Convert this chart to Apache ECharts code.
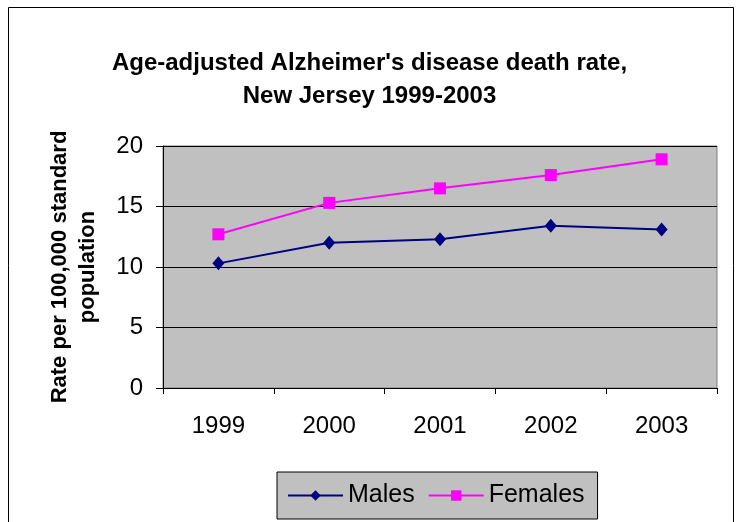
<!DOCTYPE html>
<html><head><meta charset="utf-8">
<script src="https://cdn.jsdelivr.net/npm/echarts@6/dist/echarts.min.js"></script>
<style>html,body{margin:0;padding:0;background:#fff}#c{width:739px;height:522px}</style>
</head><body><div id="c"></div>
<script>
const categories = ['1999','2000','2001','2002','2003'];
const males = [10.3, 12.0, 12.3, 13.4, 13.1];
const females = [12.7, 15.3, 16.5, 17.6, 18.9];
const yTicks = [0, 5, 10, 15, 20];

const chart = echarts.init(document.getElementById('c'));
const font = 'Liberation Sans, Arial, sans-serif';
chart.setOption({
  animation: false,
  backgroundColor: '#fff',
  title: {
    text: "Age-adjusted Alzheimer's disease death rate,\nNew Jersey 1999-2003",
    left: 'center', top: 42,
    textStyle: {fontFamily: font, fontWeight: 'bold', fontSize: 24, lineHeight: 33, color: '#000'}
  },
  graphic: [{type: 'rect', shape: {x: 8.5, y: 7.5, width: 725, height: 525}, style: {fill: 'none', stroke: '#000', lineWidth: 1}, z: -1}],
  grid: {left: 163, right: 22, top: 146, bottom: 134, show: true, backgroundColor: '#C0C0C0', borderColor: '#808080', borderWidth: 1},
  legend: {
    bottom: 3, left: 277,
    data: ['Males', 'Females'],
    backgroundColor: '#C0C0C0', borderColor: '#000', borderWidth: 1,
    padding: [11, 13, 11, 10], itemGap: 13, itemWidth: 55, itemHeight: 13,
    textStyle: {fontFamily: font, fontSize: 25, color: '#000', padding: [0, 0, 0, 0]}
  },
  xAxis: {
    type: 'category', data: categories, boundaryGap: true,
    axisLine: {lineStyle: {color: '#000', width: 1}},
    axisTick: {show: true, length: 6, lineStyle: {color: '#000'}},
    axisLabel: {fontFamily: font, fontSize: 24, color: '#000', margin: 26}
  },
  yAxis: {
    type: 'value', min: yTicks[0], max: yTicks[yTicks.length - 1], interval: 5,
    name: 'Rate per 100,000 standard\npopulation', nameLocation: 'middle', nameRotate: 90, nameGap: 61,
    nameTextStyle: {fontFamily: font, fontWeight: 'bold', fontSize: 22, lineHeight: 28, color: '#000'},
    axisLine: {show: true, lineStyle: {color: '#000', width: 1}},
    axisTick: {show: true, length: 7, lineStyle: {color: '#000'}},
    axisLabel: {fontFamily: font, fontSize: 24, color: '#000', margin: 20},
    splitLine: {show: true, lineStyle: {color: '#000', width: 1}}
  },
  series: [
    {name: 'Males', type: 'line', data: males, symbol: 'diamond', symbolSize: [12, 14],
     lineStyle: {color: '#000080', width: 2}, itemStyle: {color: '#000080'}},
    {name: 'Females', type: 'line', data: females, symbol: 'rect', symbolSize: 12,
     lineStyle: {color: '#FF00FF', width: 2}, itemStyle: {color: '#FF00FF'}}
  ]
});
</script></body></html>
